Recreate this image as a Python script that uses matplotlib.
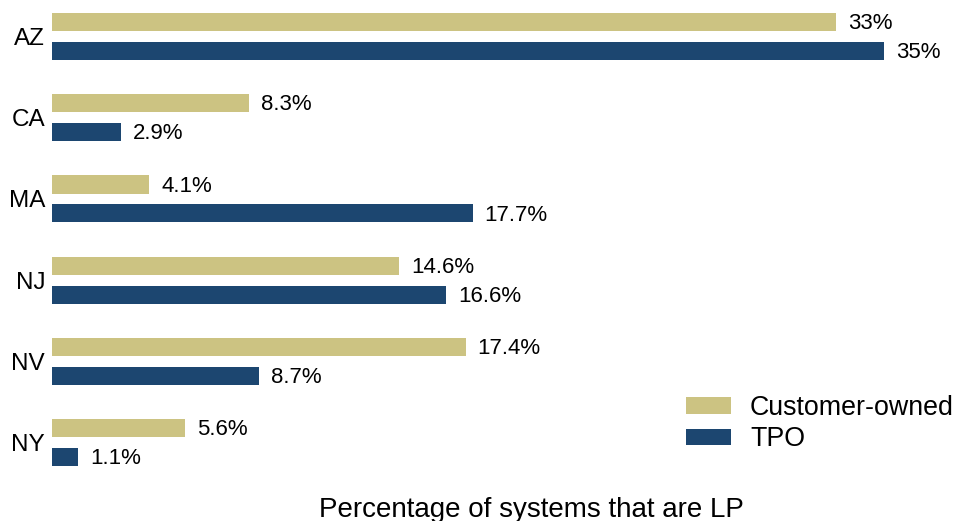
import numpy as np
import matplotlib
matplotlib.use("Agg")
import matplotlib.pyplot as plt

states = ["AZ", "CA", "MA", "NJ", "NV", "NY"]
customer_owned = [33, 8.3, 4.1, 14.6, 17.4, 5.6]
tpo = [35, 2.9, 17.7, 16.6, 8.7, 1.1]
customer_labels = ["33%", "8.3%", "4.1%", "14.6%", "17.4%", "5.6%"]
tpo_labels = ["35%", "2.9%", "17.7%", "16.6%", "8.7%", "1.1%"]

tan = "#CCC382"
navy = "#1C4670"

plt.rcParams["font.family"] = ["Liberation Sans", "DejaVu Sans"]

fig = plt.figure(figsize=(9.55, 5.21), dpi=100)
ax = fig.add_axes([0.0545, 0.0787, 0.9455, 0.9213])

y = np.arange(len(states))
off = 0.1785
h = 0.222
b1 = ax.barh(y - off, customer_owned, height=h, color=tan, label="Customer-owned")
b2 = ax.barh(y + off, tpo, height=h, color=navy, label="TPO")

# value labels just right of each bar
for bars, labels in ((b1, customer_labels), (b2, tpo_labels)):
    for bar, lab in zip(bars, labels):
        ax.annotate(lab, (bar.get_width(), bar.get_y() + bar.get_height() / 2),
                    xytext=(8.6, -1.2), textcoords="offset points",
                    va="center", ha="left", fontsize=16)

ax.set_xlim(0, 38)
ax.set_ylim(5.46, -0.45)
ax.set_yticks(y)
ax.set_yticklabels(states, fontsize=17.5)
ax.tick_params(axis="y", length=0, pad=5)
ax.set_xticks([])
for s in ax.spines.values():
    s.set_visible(False)

fig.text(0.557, 0.022, "Percentage of systems that are LP", ha="center", va="center", fontsize=20)

fig.legend(handles=[b1, b2], loc="upper left", bbox_to_anchor=(0.7183, 0.2418),
           frameon=False, fontsize=19.3, handlelength=1.68, handleheight=0.56,
           handletextpad=0.71, labelspacing=0.2, borderpad=0, borderaxespad=0)

fig.savefig("out.png", dpi=100)
